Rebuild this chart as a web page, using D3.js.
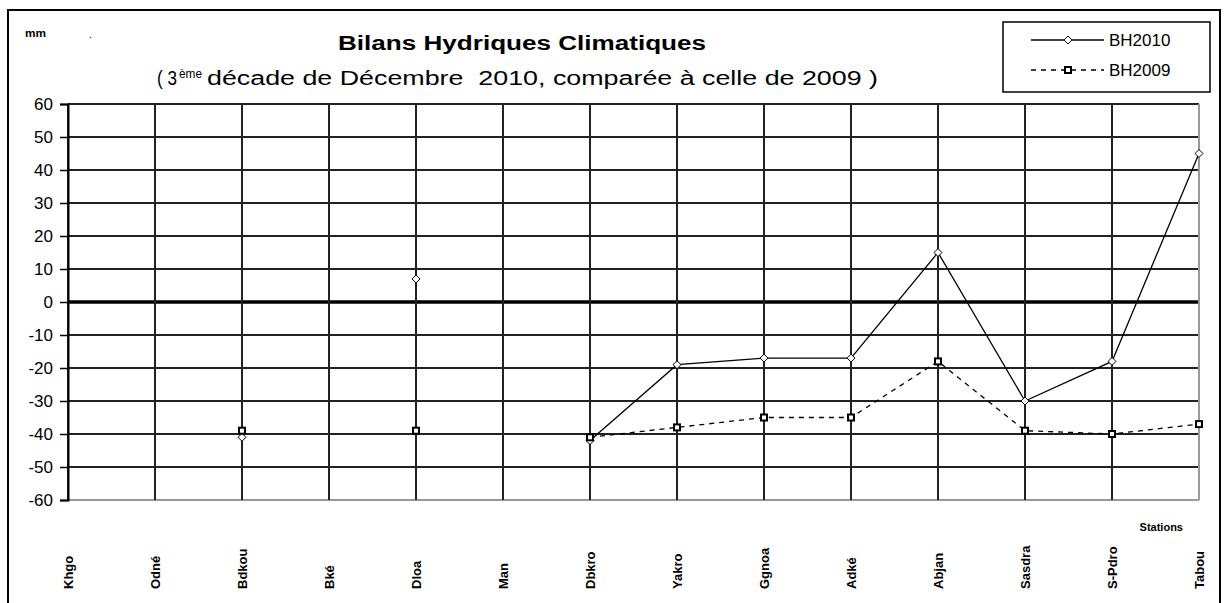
<!DOCTYPE html>
<html>
<head>
<meta charset="utf-8">
<script src="https://cdn.jsdelivr.net/npm/d3@7"></script>
<style>
  body { margin: 0; background: #fff; }
  text { font-family: "Liberation Sans", Arial, sans-serif; }
</style>
</head>
<body>
<div id="chart"></div>
<script>
const stations = ['Khgo', 'Odné', 'Bdkou', 'Bké', 'Dloa', 'Man', 'Dbkro', 'Yakro', 'Ggnoa', 'Adké', 'Abjan', 'Sasdra', 'S-Pdro', 'Tabou'];
const bh2010 = [null, null, -41, null, 7, null, -42, -19, -17, -17, 15, -30, -18, 45];
const bh2009 = [null, null, -39, null, -39, null, -41, -38, -35, -35, -18, -39, -40, -37];
const yTicks = [60, 50, 40, 30, 20, 10, 0, -10, -20, -30, -40, -50, -60];

const width = 1230, height = 603;
const plot = { left: 68, right: 1199, top: 104, bottom: 500 };

const svg = d3.select('#chart').append('svg')
  .attr('width', width)
  .attr('height', height);

// outer frame
svg.append('rect')
  .attr('x', 8).attr('y', 10)
  .attr('width', 1212).attr('height', 600)
  .attr('fill', 'none').attr('stroke', '#000').attr('stroke-width', 2);

const x = d3.scalePoint().domain(stations).range([plot.left, plot.right]);
const y = d3.scaleLinear().domain([-60, 60]).range([plot.bottom, plot.top]);

// horizontal grid
svg.append('g')
  .selectAll('line')
  .data(yTicks)
  .join('line')
    .attr('x1', plot.left).attr('x2', plot.right)
    .attr('y1', d => y(d)).attr('y2', d => y(d))
    .attr('stroke', d => d === -60 ? '#999' : (d === 0 ? '#000' : '#222'))
    .attr('stroke-width', d => d === 0 ? 3.5 : 2);

// vertical grid
svg.append('g')
  .selectAll('line')
  .data(stations)
  .join('line')
    .attr('x1', d => x(d)).attr('x2', d => x(d))
    .attr('y1', plot.top).attr('y2', plot.bottom)
    .attr('stroke', (d, i) => i === stations.length - 1 ? '#999' : '#222')
    .attr('stroke-width', 2);

// y axis
const yAxis = svg.append('g')
  .attr('transform', `translate(${plot.left},0)`)
  .call(d3.axisLeft(y).tickValues(yTicks).tickSize(8).tickPadding(7).tickFormat(d => String(d)));
yAxis.select('.domain').attr('stroke', '#000').attr('stroke-width', 2);
yAxis.selectAll('.tick line').attr('stroke', '#000').attr('stroke-width', 1.5);
yAxis.selectAll('.tick text')
  .attr('font-size', 17)
  .attr('fill', '#000')
  .attr('font-family', '"Liberation Sans", Arial, sans-serif');

// category labels
svg.append('g')
  .selectAll('text')
  .data(stations)
  .join('text')
    .attr('transform', d => `translate(${x(d) + 5},589) rotate(-90)`)
    .attr('font-size', 13)
    .attr('font-weight', 'bold')
    .text(d => d);

svg.append('text')
  .attr('x', 1183).attr('y', 531)
  .attr('text-anchor', 'end')
  .attr('font-size', 11)
  .attr('font-weight', 'bold')
  .text('Stations');

// series
const series = [
  { name: 'BH2010', values: bh2010, dash: null, marker: 'diamond' },
  { name: 'BH2009', values: bh2009, dash: '5,5', marker: 'square' }
];

const line = d3.line()
  .defined(d => d.v !== null)
  .x(d => x(d.s))
  .y(d => y(d.v));

const drawMarker = (g, type, cx, cy) => {
  if (type === 'diamond') {
    g.append('path')
      .attr('d', d3.symbol(d3.symbolDiamond2, 40)())
      .attr('transform', `translate(${cx},${cy})`)
      .attr('fill', '#fff').attr('stroke', '#000').attr('stroke-width', 1);
  } else {
    g.append('rect')
      .attr('x', cx - 3).attr('y', cy - 3)
      .attr('width', 6).attr('height', 6)
      .attr('fill', '#fff').attr('stroke', '#000').attr('stroke-width', 2);
  }
};

series.forEach(s => {
  const pts = stations.map((st, i) => ({ s: st, v: s.values[i] }));
  svg.append('path')
    .attr('d', line(pts))
    .attr('fill', 'none')
    .attr('stroke', '#000')
    .attr('stroke-width', 1.3)
    .attr('stroke-dasharray', s.dash);
  const g = svg.append('g');
  pts.filter(p => p.v !== null).forEach(p => drawMarker(g, s.marker, x(p.s), y(p.v)));
});

// titles
svg.append('text')
  .attr('x', 338).attr('y', 50)
  .attr('font-family', '"DejaVu Sans", sans-serif')
  .attr('font-size', 20)
  .attr('font-weight', 'bold')
  .attr('textLength', 368)
  .attr('lengthAdjust', 'spacingAndGlyphs')
  .text('Bilans Hydriques Climatiques');

svg.append('text')
  .attr('x', 157).attr('y', 85)
  .attr('font-size', 20)
  .attr('textLength', 20)
  .attr('lengthAdjust', 'spacingAndGlyphs')
  .attr('xml:space', 'preserve')
  .text('( 3');
svg.append('text')
  .attr('x', 179).attr('y', 78)
  .attr('font-size', 12)
  .attr('textLength', 23)
  .attr('lengthAdjust', 'spacingAndGlyphs')
  .text('ème');
svg.append('text')
  .attr('x', 207).attr('y', 85)
  .attr('font-size', 20)
  .attr('textLength', 671)
  .attr('lengthAdjust', 'spacingAndGlyphs')
  .attr('xml:space', 'preserve')
  .text('décade de Décembre  2010, comparée à celle de 2009 )');

svg.append('text')
  .attr('x', 25).attr('y', 37)
  .attr('font-size', 10)
  .attr('font-weight', 'bold')
  .attr('textLength', 21)
  .attr('lengthAdjust', 'spacingAndGlyphs')
  .text('mm');
svg.append('text')
  .attr('x', 89).attr('y', 38)
  .attr('font-size', 11)
  .text('.');

// legend
const legend = svg.append('g');
legend.append('rect')
  .attr('x', 1003).attr('y', 22)
  .attr('width', 207).attr('height', 70)
  .attr('fill', '#fff').attr('stroke', '#000').attr('stroke-width', 1.5);
series.forEach((s, i) => {
  const ly = 40 + i * 30;
  legend.append('line')
    .attr('x1', 1031).attr('x2', 1104)
    .attr('y1', ly).attr('y2', ly)
    .attr('stroke', '#000').attr('stroke-width', 1.3)
    .attr('stroke-dasharray', s.dash);
  drawMarker(legend, s.marker, 1068, ly);
  legend.append('text')
    .attr('x', 1109).attr('y', ly + 6)
    .attr('font-size', 17)
    .text(s.name);
});
</script>
</body>
</html>
